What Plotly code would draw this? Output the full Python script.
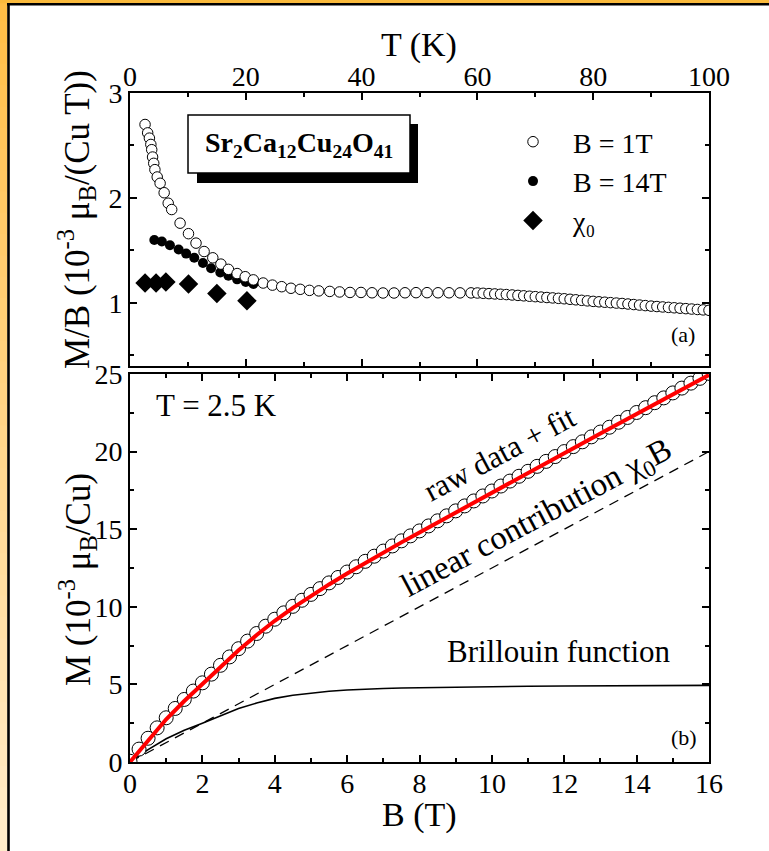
import plotly.graph_objects as go

# ---------------- data ----------------
# panel (a): M/B vs T
T_1T = [2.6, 3.05, 3.35, 3.6, 3.75, 3.9, 4.1, 4.3, 4.7, 5.2, 5.9, 6.6, 7.2, 8.65, 10.1,
        11.4, 12.8, 14.3, 15.7, 17.0, 18.5, 19.9, 21.3, 23.0, 24.6, 26.2, 27.8, 29.4,
        31.0, 32.6, 34.5, 36.2, 38.0, 39.9, 41.8, 43.7, 45.6, 47.5, 49.4, 51.3, 53.2,
        55.1, 57.0, 58.9, 60, 61, 62, 63, 64, 65, 66, 67, 68, 69, 70, 71, 72, 73, 74,
        75, 76, 77, 78, 79, 80, 81, 82, 83, 84, 85, 86, 87, 88, 89, 90, 91, 92, 93, 94,
        95, 96, 97, 98, 99, 100]
MB_1T = [2.70, 2.62, 2.57, 2.51, 2.46, 2.39, 2.33, 2.27, 2.20, 2.14, 2.05, 1.95, 1.89,
         1.76, 1.66, 1.57, 1.49, 1.43, 1.37, 1.32, 1.28, 1.25, 1.22, 1.19, 1.17, 1.155,
         1.14, 1.13, 1.12, 1.115, 1.11, 1.105, 1.10, 1.10, 1.097, 1.095, 1.095, 1.097,
         1.098, 1.098, 1.097, 1.097, 1.096, 1.096, 1.095, 1.092, 1.089, 1.086, 1.083,
         1.080, 1.076, 1.072, 1.068, 1.064, 1.060, 1.056, 1.052, 1.048, 1.044, 1.040,
         1.035, 1.030, 1.025, 1.020, 1.015, 1.011, 1.007, 1.003, 0.999, 0.995, 0.990,
         0.985, 0.980, 0.975, 0.970, 0.966, 0.962, 0.958, 0.954, 0.950, 0.946, 0.942,
         0.938, 0.934, 0.930]
T_14T = [4.2, 5.5, 6.9, 8.4, 9.7, 11.1, 12.6, 14.0, 15.6, 17.0, 18.5, 20.0, 21.3]
MB_14T = [1.60, 1.585, 1.55, 1.51, 1.47, 1.43, 1.38, 1.33, 1.29, 1.26, 1.225, 1.20, 1.18]
T_chi0 = [2.6, 4.5, 6.2, 10.1, 15.0, 20.2]
chi0 = [1.19, 1.19, 1.20, 1.18, 1.09, 1.02]

# panel (b): M vs B at T = 2.5 K
B_raw = [0, 0.25, 0.5, 0.75, 1.0, 1.25, 1.5, 1.75, 2.0, 2.25, 2.5, 2.75, 3.0, 3.25, 3.5,
         3.75, 4.0, 4.25, 4.5, 4.75, 5.0, 5.25, 5.5, 5.75, 6.0, 6.25, 6.5, 6.75, 7.0,
         7.25, 7.5, 7.75, 8.0, 8.25, 8.5, 8.75, 9.0, 9.25, 9.5, 9.75, 10.0, 10.25, 10.5,
         10.75, 11.0, 11.25, 11.5, 11.75, 12.0, 12.25, 12.5, 12.75, 13.0, 13.25, 13.5,
         13.75, 14.0, 14.25, 14.5, 14.75, 15.0, 15.25, 15.5, 15.75, 16.0]
M_raw = [0.05, 0.83, 1.53, 2.20, 2.85, 3.45, 4.03, 4.57, 5.10, 5.66, 6.23, 6.77, 7.30,
         7.79, 8.28, 8.75, 9.20, 9.61, 10.03, 10.42, 10.80, 11.17, 11.54, 11.89, 12.24,
         12.58, 12.93, 13.26, 13.59, 13.92, 14.25, 14.57, 14.89, 15.21, 15.54, 15.86,
         16.18, 16.50, 16.82, 17.14, 17.46, 17.78, 18.10, 18.41, 18.73, 19.05, 19.37,
         19.68, 20.00, 20.32, 20.63, 20.95, 21.26, 21.57, 21.89, 22.20, 22.52, 22.83,
         23.15, 23.46, 23.78, 24.09, 24.41, 24.72, 25.04]
B_fit = [0, 0.5, 1, 1.5, 2, 2.5, 3, 3.5, 4, 4.5, 5, 5.5, 6, 6.5, 7, 7.5, 8, 9, 10, 11,
         12, 13, 14, 15, 16]
M_fit = [0, 1.42, 2.75, 3.93, 5.0, 6.13, 7.2, 8.18, 9.1, 9.93, 10.7, 11.44, 12.14, 12.83,
         13.49, 14.15, 14.79, 16.08, 17.36, 18.63, 19.9, 21.16, 22.42, 23.68, 24.94]
M_brill = [0, 0.8, 1.5, 2.05, 2.5, 3.0, 3.45, 3.8, 4.1, 4.3, 4.45, 4.56, 4.64, 4.7, 4.74,
           4.77, 4.79, 4.83, 4.86, 4.88, 4.9, 4.91, 4.92, 4.93, 4.94]
B_lin = [0, 16]
M_lin = [0, 20]

# ---------------- geometry ----------------
W, H = 769, 851
L, R, T, B = 130, 60, 93, 89
PW, PH = W - L - R, H - T - B
FONT = "Liberation Serif"


def px(x):
    return (x - L) / PW


def py(y):
    return (H - B - y) / PH


fig = go.Figure()

# panel (a)
fig.add_trace(go.Scatter(x=T_chi0, y=chi0, mode="markers", name="χ₀",
                         legendrank=3, xaxis="x", yaxis="y",
                         marker=dict(symbol="diamond", size=15, color="black",
                                     line=dict(width=0))))
fig.add_trace(go.Scatter(x=T_14T, y=MB_14T, mode="markers", name="B = 14T",
                         legendrank=2, xaxis="x", yaxis="y",
                         marker=dict(symbol="circle", size=10, color="black",
                                     line=dict(width=0))))
fig.add_trace(go.Scatter(x=T_1T, y=MB_1T, mode="markers", name="B = 1T",
                         legendrank=1, xaxis="x", yaxis="y",
                         marker=dict(symbol="circle", size=10.5, color="white",
                                     line=dict(width=1, color="black"))))

# panel (b)
fig.add_trace(go.Scatter(x=B_fit, y=M_brill, mode="lines", showlegend=False,
                         xaxis="x2", yaxis="y2", line=dict(color="black", width=1.6)))
fig.add_trace(go.Scatter(x=B_lin, y=M_lin, mode="lines", showlegend=False,
                         xaxis="x2", yaxis="y2",
                         line=dict(color="black", width=1.3, dash="10px,7px")))
fig.add_trace(go.Scatter(x=B_raw, y=M_raw, mode="markers", showlegend=False,
                         xaxis="x2", yaxis="y2",
                         marker=dict(symbol="circle", size=14, color="white",
                                     line=dict(width=1, color="black"))))
fig.add_trace(go.Scatter(x=B_fit, y=M_fit, mode="lines", showlegend=False,
                         xaxis="x2", yaxis="y2", line=dict(color="#ff0000", width=4)))

common = dict(showline=True, linecolor="black", linewidth=2, mirror="ticks",
              ticks="inside", ticklen=7, tickwidth=2, tickcolor="black",
              showgrid=False, zeroline=False,
              tickfont=dict(family=FONT, size=28, color="black"))


def minor(d):
    return dict(dtick=d, ticks="inside", ticklen=4, tickwidth=2, tickcolor="black",
                showgrid=False)


fig.update_layout(
    width=W, height=H,
    margin=dict(l=L, r=R, t=T, b=B),
    paper_bgcolor="white", plot_bgcolor="white",
    font=dict(family=FONT, color="black"),
    xaxis=dict(range=[0, 100], dtick=20, tick0=0, side="top", anchor="y",
               domain=[0, 1], minor=minor(10), ticklabelstandoff=-6, **common),
    yaxis=dict(range=[0.4, 3], dtick=1, tick0=0, anchor="x",
               domain=[0.592, 1], minor=minor(0.5), **common),
    xaxis2=dict(range=[0, 16], dtick=2, tick0=0, anchor="y2",
                domain=[0, 1], minor=minor(1), ticklabelstandoff=-5, **common),
    yaxis2=dict(range=[0, 25], dtick=5, tick0=0, anchor="x2",
                domain=[0, 0.58], minor=minor(2.5), **common),
    showlegend=True,
    legend=dict(x=px(493), y=py(117), xanchor="left", yanchor="top",
                bgcolor="rgba(0,0,0,0)", font=dict(family=FONT, size=28),
                itemsizing="trace", itemwidth=70, tracegroupgap=0),
)

# ---------------- frame (orange border with black line) ----------------
shapes = []
top_c = (255, 190, 70)
bot_c = (255, 236, 202)
N = 40
for i in range(N):
    f = i / (N - 1)
    c = tuple(int(round(top_c[k] + (bot_c[k] - top_c[k]) * f)) for k in range(3))
    y0 = H * i / N
    y1 = H * (i + 1) / N + 1
    shapes.append(dict(type="rect", xref="paper", yref="paper",
                       x0=px(0), x1=px(7.5), y0=py(y0), y1=py(y1),
                       fillcolor="rgb(%d,%d,%d)" % c, line=dict(width=0)))
shapes.append(dict(type="rect", xref="paper", yref="paper", x0=px(0), x1=px(W),
                   y0=py(0), y1=py(3.2), fillcolor="rgb(250,186,60)", line=dict(width=0)))
shapes.append(dict(type="line", xref="paper", yref="paper", x0=px(7), x1=px(W),
                   y0=py(4.2), y1=py(4.2), line=dict(color="black", width=2.4)))
shapes.append(dict(type="line", xref="paper", yref="paper", x0=px(8.5), x1=px(8.5),
                   y0=py(3), y1=py(H), line=dict(color="black", width=2.6)))

# compound label box with shadow
shapes.append(dict(type="rect", xref="paper", yref="paper", x0=px(197), x1=px(418),
                   y0=py(124), y1=py(183), fillcolor="black", line=dict(width=0)))
shapes.append(dict(type="rect", xref="paper", yref="paper", x0=px(188), x1=px(410),
                   y0=py(115), y1=py(173), fillcolor="white",
                   line=dict(color="black", width=1.5)))
fig.update_layout(shapes=shapes)

# ---------------- texts ----------------
ann = []


def txt(x, y, s, size, angle=0, xref="paper", yref="paper", **kw):
    ann.append(dict(x=x, y=y, xref=xref, yref=yref, text=s, showarrow=False,
                    textangle=angle, xanchor="center", yanchor="middle",
                    font=dict(family=FONT, size=size, color="black"), **kw))


txt(px(419), py(45), "T (K)", 34)
txt(px(419), py(815), "B (T)", 34)
txt(px(77), py(220), "M/B (10<sup>-3</sup> μ<sub>B</sub>/(Cu T))", 35, angle=-90)
txt(px(77), py(580), "M (10<sup>-3</sup> μ<sub>B</sub>/Cu)", 35, angle=-90)
txt(px(299), py(145), "<b>Sr<sub>2</sub>Ca<sub>12</sub>Cu<sub>24</sub>O<sub>41</sub></b>", 28)
txt(95.5, 0.695, "(a)", 22, xref="x", yref="y")
txt(15.3, 1.55, "(b)", 22, xref="x2", yref="y2")
txt(2.38, 23.0, "T = 2.5 K", 31, xref="x2", yref="y2")
txt(11.85, 7.09, "Brillouin function", 31, xref="x2", yref="y2")
txt(10.22, 19.9, "raw data + fit", 31, angle=-28, xref="x2", yref="y2")
txt(11.25, 15.6, "linear contribution χ<sub>0</sub>B", 33, angle=-28, xref="x2", yref="y2")
fig.update_layout(annotations=ann)

fig.write_html("out.html")
